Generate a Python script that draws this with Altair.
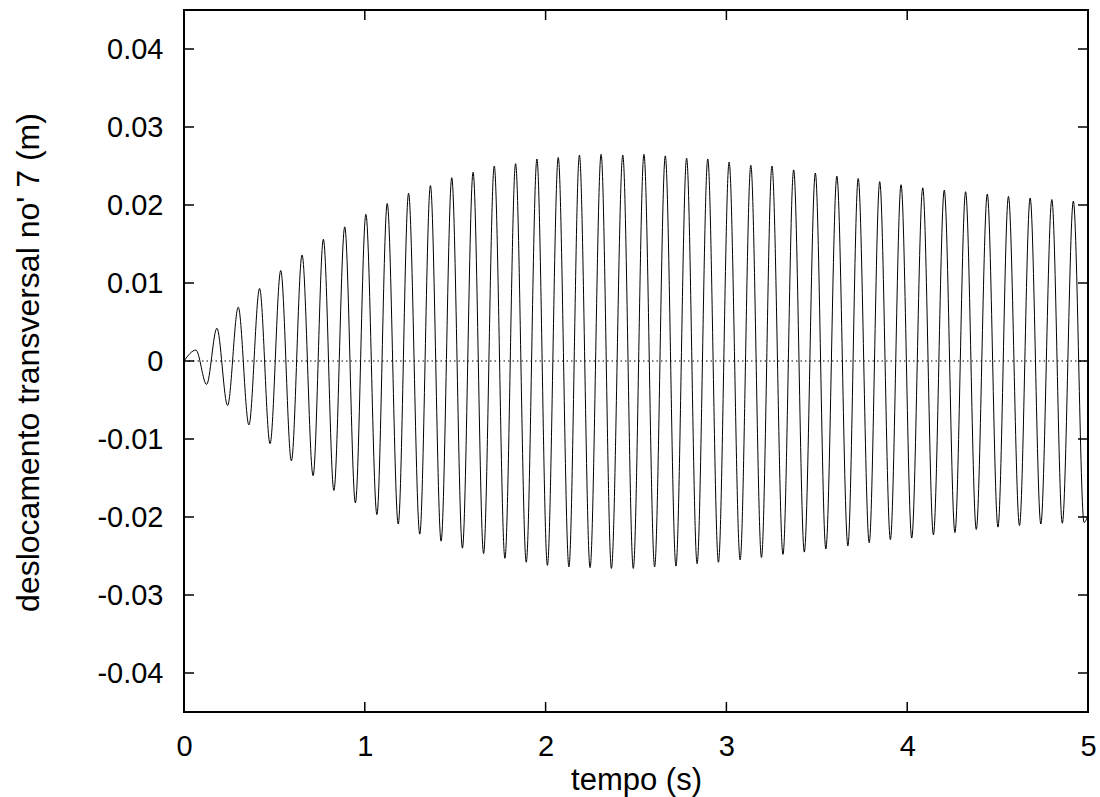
import altair as alt
import pandas as pd

# Extremes of the response (time in s, displacement in m)
peak_t = [0.066, 0.182, 0.300, 0.418, 0.535, 0.653, 0.771, 0.889, 1.006, 1.124,
          1.242, 1.363, 1.481, 1.599, 1.716, 1.834, 1.952, 2.070, 2.187, 2.307,
          2.427, 2.544, 2.662, 2.780, 2.897, 3.015, 3.135, 3.252, 3.372, 3.492,
          3.611, 3.729, 3.848, 3.966, 4.086, 4.205, 4.323, 4.443, 4.560, 4.680,
          4.800, 4.919]
peak_y = [0.0014, 0.0042, 0.0069, 0.0093, 0.0116, 0.0136, 0.0156, 0.0172, 0.0188, 0.0202,
          0.0215, 0.0225, 0.0235, 0.0242, 0.0250, 0.0253, 0.0259, 0.0261, 0.0264, 0.0265,
          0.0264, 0.0265, 0.0263, 0.0260, 0.0259, 0.0255, 0.0251, 0.0250, 0.0245, 0.0241,
          0.0237, 0.0234, 0.0230, 0.0226, 0.0222, 0.0219, 0.0217, 0.0214, 0.0211, 0.0209,
          0.0207, 0.0205]
trough_t = [0.125, 0.241, 0.359, 0.476, 0.594, 0.714, 0.829, 0.948, 1.067, 1.185,
            1.304, 1.422, 1.540, 1.657, 1.775, 1.893, 2.010, 2.129, 2.246, 2.364,
            2.485, 2.603, 2.721, 2.838, 2.956, 3.076, 3.194, 3.313, 3.431, 3.550,
            3.672, 3.790, 3.907, 4.025, 4.145, 4.264, 4.382, 4.502, 4.621, 4.739,
            4.858, 4.978]
trough_y = [-0.0030, -0.0057, -0.0082, -0.0106, -0.0128, -0.0147, -0.0166, -0.0182, -0.0197, -0.0209,
            -0.0222, -0.0231, -0.0240, -0.0247, -0.0253, -0.0258, -0.0262, -0.0264, -0.0265, -0.0266,
            -0.0266, -0.0264, -0.0263, -0.0260, -0.0258, -0.0255, -0.0252, -0.0248, -0.0245, -0.0241,
            -0.0237, -0.0233, -0.0229, -0.0227, -0.0223, -0.0220, -0.0216, -0.0213, -0.0211, -0.0209,
            -0.0208, -0.0207]
start_t, start_y = [0.0], [0.0]
end_t, end_y = [5.0], [-0.0198]

x_ticks = [0, 1, 2, 3, 4, 5]
y_ticks = [-0.04, -0.03, -0.02, -0.01, 0, 0.01, 0.02, 0.03, 0.04]

W, H = 904, 702
TICK = 10
FONT = "Liberation Sans"

sig = pd.concat([
    pd.DataFrame({"t": start_t, "y": start_y}),
    pd.DataFrame({"t": peak_t, "y": peak_y}),
    pd.DataFrame({"t": trough_t, "y": trough_y}),
    pd.DataFrame({"t": end_t, "y": end_y}),
]).sort_values("t").reset_index(drop=True)

xs = alt.Scale(domain=[0, 5], nice=False, zero=False)
ys = alt.Scale(domain=[-0.045, 0.045], nice=False, zero=False)

x_axis = alt.Axis(values=x_ticks, format="d", title="tempo (s)", grid=False,
                  domain=False, ticks=False, tickSize=0, labelPadding=20,
                  labelFlush=False,
                  labelFontSize=29, labelFont=FONT, labelColor="black",
                  titleFontSize=31, titleFont=FONT, titleFontWeight="normal",
                  titleColor="black", titleY=53, titleBaseline="top")
y_axis = alt.Axis(values=y_ticks,
                  labelExpr="datum.value == 0 ? '0' : (datum.value < 0 ? '-' + format(-datum.value, '.2f') : format(datum.value, '.2f'))",
                  title="deslocamento transversal no' 7 (m)", grid=False,
                  domain=False, ticks=False, tickSize=0, labelPadding=21,
                  labelFlush=False,
                  labelFontSize=29, labelFont=FONT, labelColor="black",
                  titleFontSize=32, titleFont=FONT, titleFontWeight="normal",
                  titleColor="black", titleX=-156, titleY=342 + 10, titleAngle=-90,
                  titleBaseline="middle", titleAlign="center")

line = alt.Chart(sig).mark_line(color="black", strokeWidth=1, interpolate="monotone").encode(
    x=alt.X("t:Q", scale=xs, axis=x_axis),
    y=alt.Y("y:Q", scale=ys, axis=y_axis),
)

zero = alt.Chart(pd.DataFrame({"y": [0]})).mark_rule(
    color="black", strokeWidth=1, strokeDash=[1.5, 3]
).encode(y=alt.Y("y:Q", scale=ys, axis=y_axis), x=alt.value(0), x2=alt.value(W))

ydf = pd.DataFrame({"y": y_ticks})
xdf = pd.DataFrame({"t": x_ticks})

left_ticks = alt.Chart(ydf).mark_rule(color="black", strokeWidth=1.5).encode(
    y=alt.Y("y:Q", scale=ys, axis=y_axis), x=alt.value(0), x2=alt.value(TICK))
right_ticks = alt.Chart(ydf).mark_rule(color="black", strokeWidth=1.5).encode(
    y=alt.Y("y:Q", scale=ys, axis=y_axis), x=alt.value(W - TICK), x2=alt.value(W))
bottom_ticks = alt.Chart(xdf).mark_rule(color="black", strokeWidth=1.5).encode(
    x=alt.X("t:Q", scale=xs, axis=x_axis), y=alt.value(H - TICK), y2=alt.value(H))
top_ticks = alt.Chart(xdf).mark_rule(color="black", strokeWidth=1.5).encode(
    x=alt.X("t:Q", scale=xs, axis=x_axis), y=alt.value(0), y2=alt.value(TICK))

chart = alt.layer(zero, left_ticks, right_ticks, bottom_ticks, top_ticks, line).properties(
    width=W, height=H,
    autosize=alt.AutoSizeParams(type="none"),
    padding={"left": 184, "top": 10, "right": 12, "bottom": 85},
    background="white",
).configure_view(stroke="black", strokeWidth=2)

chart.save("out.html", embed_options={"renderer": "svg", "actions": False})
